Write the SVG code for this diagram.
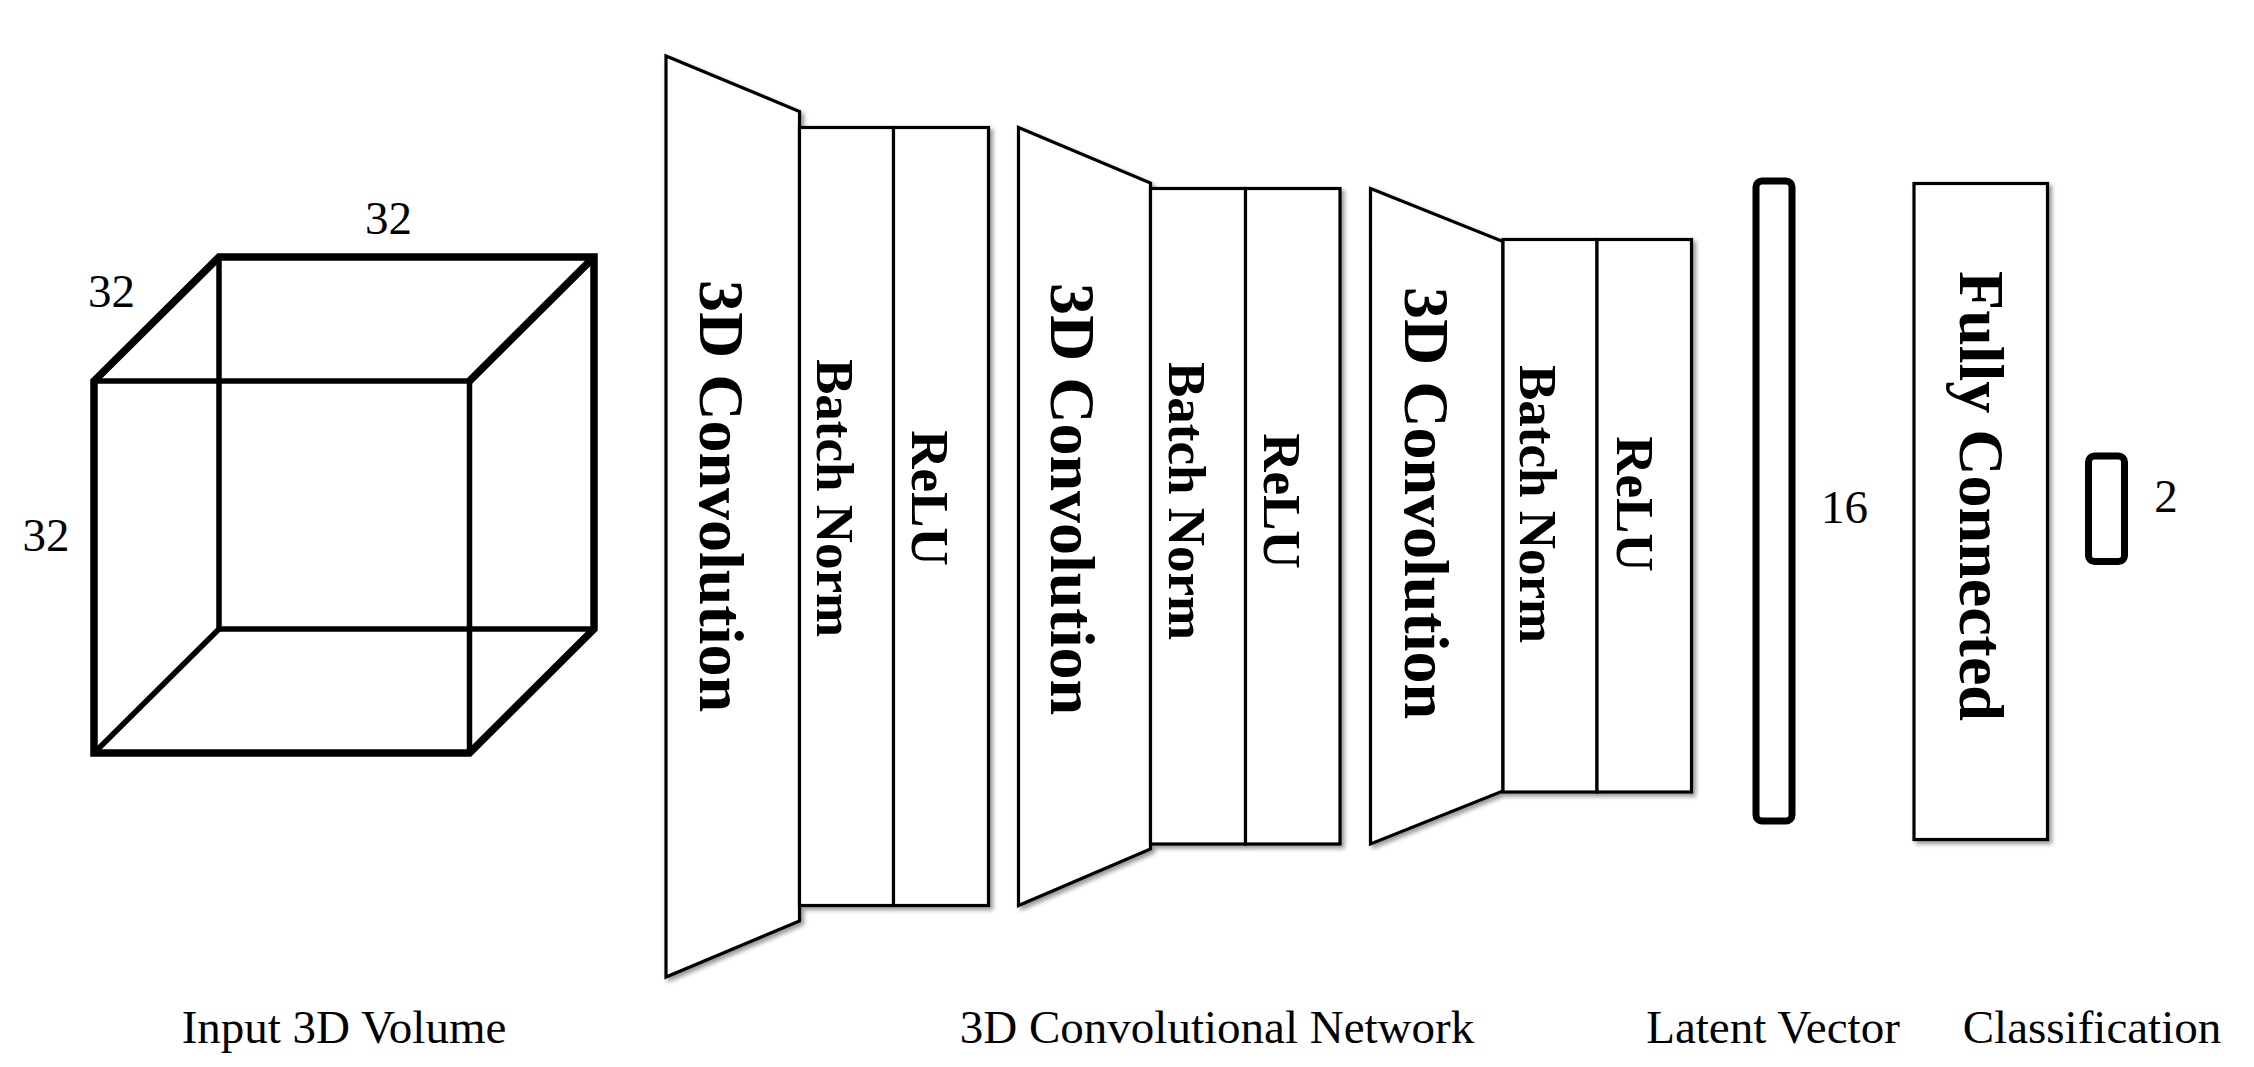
<svg xmlns="http://www.w3.org/2000/svg" width="2254" height="1067" viewBox="0 0 2254 1067">
<defs>
<style>
.blk{fill:#fff;stroke:#000;stroke-width:3.2;stroke-linejoin:miter}
.bar{fill:#fff;stroke:#000;stroke-width:7}
.lbl{font-family:"Liberation Serif","Times New Roman",serif;font-size:47px;fill:#000}
.big{font-family:"Liberation Serif","Times New Roman",serif;font-weight:bold;font-size:64px;fill:#000;text-anchor:middle}
.mid{font-family:"Liberation Serif","Times New Roman",serif;font-weight:bold;font-size:53px;fill:#000;text-anchor:middle}
.thick{fill:none;stroke:#000;stroke-width:7.5;stroke-linejoin:miter}
.thin{fill:none;stroke:#000;stroke-width:5.5;stroke-linejoin:miter}
</style>
<filter id="sh" x="-20%" y="-5%" width="140%" height="110%">
<feDropShadow dx="3" dy="3" stdDeviation="2.2" flood-color="#000" flood-opacity="0.4"/>
</filter>
</defs>
<rect width="2254" height="1067" fill="#fff"/>

<g id="input-cube">
<polyline class="thin" points="219,257 219,629 594,629"/>
<line class="thin" x1="94" y1="753" x2="219" y2="629"/>
<polyline class="thin" points="94,381 469.5,381 469.5,753"/>
<path class="thick" d="M219,257 L594,257 L594,629 L469.5,753 L94,753 L94,381 Z"/>
<line class="thick" x1="469.5" y1="381" x2="594" y2="257"/>
<text class="lbl" x="388.5" y="234" text-anchor="middle">32</text>
<text class="lbl" x="111.5" y="307" text-anchor="middle">32</text>
<text class="lbl" x="46" y="551" text-anchor="middle">32</text>
</g>

<g id="conv1" filter="url(#sh)">
<polygon class="blk" points="666,56 799.5,111.5 799.5,921 666,977"/>
<rect class="blk" x="799.5" y="127.5" width="94" height="778"/>
<rect class="blk" x="893.5" y="127.5" width="95" height="778"/>
</g>
<g id="conv1-text">
<text class="big" transform="translate(700,496) rotate(90)">3D Convolution</text>
<text class="mid" transform="translate(817,498) rotate(90)">Batch Norm</text>
<text class="mid" transform="translate(912,498) rotate(90)">ReLU</text>
</g>

<g id="conv2" filter="url(#sh)">
<polygon class="blk" points="1018.5,127.5 1150.5,183 1150.5,849 1018.5,905.5"/>
<rect class="blk" x="1150.5" y="188.5" width="95" height="655.5"/>
<rect class="blk" x="1245.5" y="188.5" width="94.5" height="655.5"/>
</g>
<g id="conv2-text">
<text class="big" transform="translate(1051,499) rotate(90)">3D Convolution</text>
<text class="mid" transform="translate(1169,501) rotate(90)">Batch Norm</text>
<text class="mid" transform="translate(1264,501) rotate(90)">ReLU</text>
</g>

<g id="conv3" filter="url(#sh)">
<polygon class="blk" points="1370.5,188.5 1503,241.5 1503,791 1370.5,844"/>
<rect class="blk" x="1503" y="239.5" width="94" height="552.5"/>
<rect class="blk" x="1597" y="239.5" width="94.5" height="552.5"/>
</g>
<g id="conv3-text">
<text class="big" transform="translate(1405,503) rotate(90)">3D Convolution</text>
<text class="mid" transform="translate(1520,504) rotate(90)">Batch Norm</text>
<text class="mid" transform="translate(1617,504) rotate(90)">ReLU</text>
</g>

<g id="latent">
<rect class="bar" x="1756" y="181" width="36" height="640" rx="6"/>
<text class="lbl" x="1844.5" y="522.5" text-anchor="middle">16</text>
</g>

<g id="fc">
<rect class="blk" x="1914" y="183.5" width="133.5" height="656" filter="url(#sh)"/>
<text class="big" transform="translate(1960,496) rotate(90)">Fully Connected</text>
</g>

<g id="output">
<rect class="bar" x="2088.5" y="456" width="36" height="105.5" rx="6"/>
<text class="lbl" x="2166" y="511.5" text-anchor="middle">2</text>
</g>

<g id="connectors"></g>

<g id="captions">
<text class="lbl" x="344" y="1043" text-anchor="middle">Input 3D Volume</text>
<text class="lbl" x="1217" y="1043" text-anchor="middle">3D Convolutional Network</text>
<text class="lbl" x="1773" y="1043" text-anchor="middle">Latent Vector</text>
<text class="lbl" x="2092" y="1043" text-anchor="middle">Classification</text>
</g>
</svg>
